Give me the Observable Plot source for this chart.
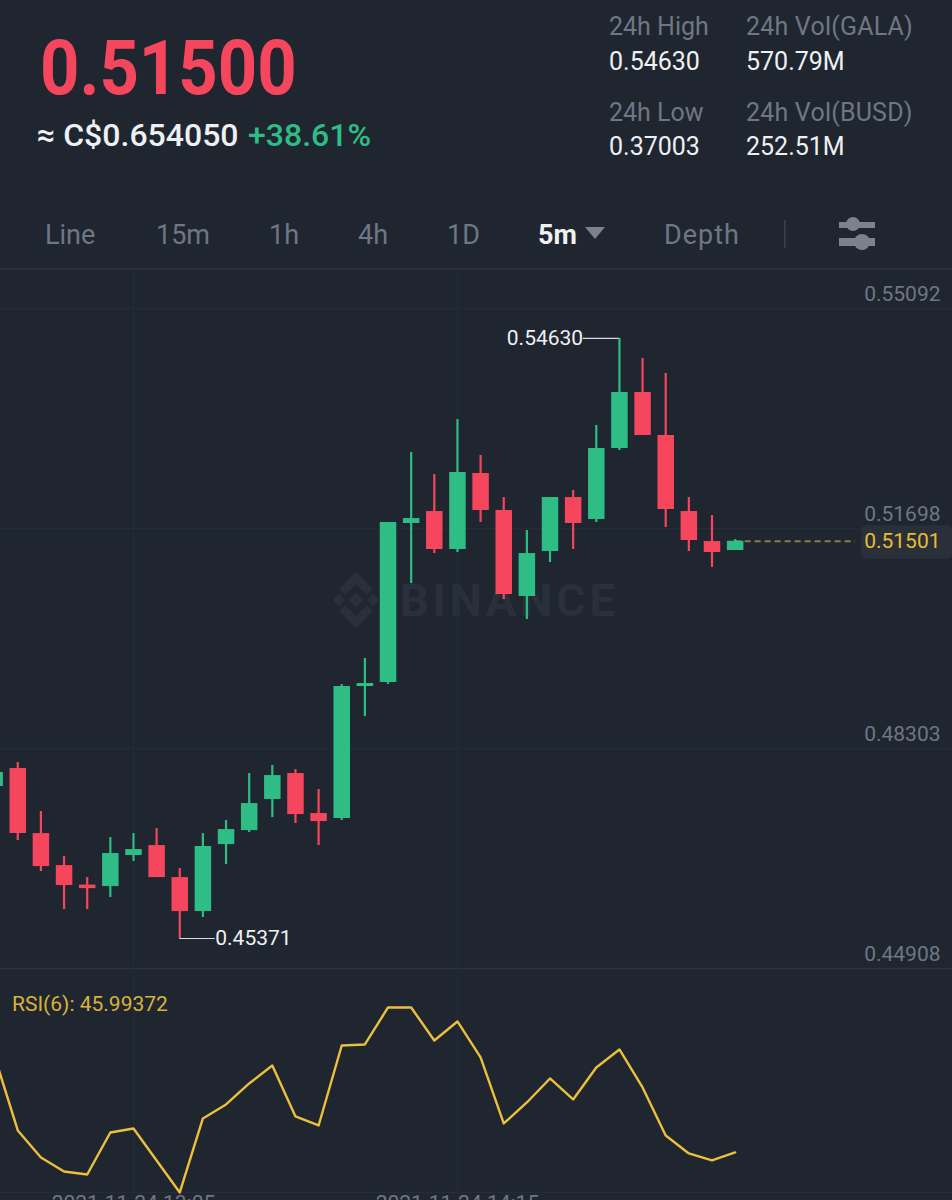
<!DOCTYPE html>
<html><head><meta charset="utf-8">
<script src="https://cdn.jsdelivr.net/npm/d3@7"></script>
<script src="https://cdn.jsdelivr.net/npm/@observablehq/plot@0.6"></script>
<style>
html,body{margin:0;padding:0;background:#1f2630;width:952px;height:1200px;overflow:hidden;font-family:Roboto,sans-serif}
#page{position:relative;width:952px;height:1200px;overflow:hidden}
.t{position:absolute;white-space:nowrap;line-height:1;transform-origin:0 50%}
.g{color:#6f7684}.w{color:#eef0f3}
#wm,#p1,#p2{position:absolute;left:0}
#p1{top:268px}#p2{top:968px}
#hr{position:absolute;left:0;top:268px;width:952px;height:2px;background:#2a313c}
</style></head><body><div id="page">
<div class="t" style="left:40px;top:30px;font-size:76px;font-weight:700;color:#f6465d;transform:scaleX(.905)">0.51500</div>
<div class="t w" style="left:37px;top:119px;font-size:32px;font-weight:500">≈ C$0.654050</div>
<div class="t" style="left:248px;top:119px;font-size:32px;font-weight:500;color:#2ebd85">+38.61%</div>
<div class="t g" style="left:609px;top:14px;font-size:25px">24h High</div>
<div class="t w" style="left:609px;top:49px;font-size:25px">0.54630</div>
<div class="t g" style="left:609px;top:100px;font-size:25px">24h Low</div>
<div class="t w" style="left:609px;top:134px;font-size:25px">0.37003</div>
<div class="t g" style="left:746px;top:14px;font-size:25px;letter-spacing:.2px">24h Vol(GALA)</div>
<div class="t w" style="left:746px;top:49px;font-size:25px">570.79M</div>
<div class="t g" style="left:746px;top:100px;font-size:25px;letter-spacing:.2px">24h Vol(BUSD)</div>
<div class="t w" style="left:746px;top:134px;font-size:25px">252.51M</div>
<div class="t g" style="left:45px;top:222px;font-size:27px">Line</div>
<div class="t g" style="left:156px;top:222px;font-size:27px">15m</div>
<div class="t g" style="left:269px;top:222px;font-size:27px">1h</div>
<div class="t g" style="left:358px;top:222px;font-size:27px">4h</div>
<div class="t g" style="left:447px;top:222px;font-size:27px">1D</div>
<div class="t w" style="left:538px;top:222px;font-size:27px;font-weight:700">5m</div>
<div class="t g" style="left:664px;top:222px;font-size:27px;letter-spacing:1px">Depth</div>
<svg style="position:absolute;left:0;top:210px" width="952" height="50">
<path d="M585 17h20l-10 12z" fill="#7b828e"/>
<rect x="784" y="10" width="1.5" height="28" fill="#3a414c"/>
<rect x="839" y="12" width="36" height="6" fill="#7b828e"/><circle cx="853" cy="14" r="7" fill="#7b828e"/>
<rect x="839" y="28" width="36" height="8" fill="#7b828e"/><circle cx="862" cy="32" r="8" fill="#7b828e"/>
</svg>
<svg id="wm" style="top:570px" width="952" height="60">
<g fill="#2a303b" transform="translate(356 30)">
<path d="M-23 0l6-6 6 6-6 6z"/><path d="M0-7l7 7-7 7-7-7z"/><path d="M23 0l-6-6-6 6 6 6z"/>
<path d="M0-28l17 17-6 6L0-16-11-5l-6-6z"/><path d="M0 28l17-17-6-6L0 16-11 5l-6 6z"/>
</g>
<text x="400" y="46" font-family="Roboto" font-weight="700" font-size="45" letter-spacing="4" fill="#2a303b">BINANCE</text>
</svg>
<div id="p1"></div><div id="hr"></div><div id="p2"></div>
<div class="t" style="left:12px;top:994px;font-size:21px;color:#d9b23c">RSI(6): 45.99372</div>
</div>
<script>
const opens=[.47716,.47993,.46990,.46496,.46195,.46172,.46651,.46805,.46311,.45786,.46820,.47036,.47515,.47916,.47299,.47222,.49259,.49320,.51774,.51959,.51373,.52546,.51975,.50648,.51342,.52175,.51836,.52932,.53796,.53132,.51959,.51496,.51357];
const closes=[.47932,.46990,.46481,.46188,.46141,.46682,.46743,.46311,.45786,.46790,.47052,.47453,.47885,.47283,.47175,.49259,.49305,.51790,.51851,.51373,.52561,.51975,.50678,.51311,.52175,.51774,.52932,.53796,.53132,.51990,.51512,.51327,.51501];
const highs=[.47960,.48086,.47330,.46635,.46311,.46928,.46990,.47067,.46450,.46990,.47191,.47916,.48040,.47978,.47669,.49290,.49691,.51790,.52870,.52530,.53379,.52823,.52175,.51666,.52175,.52283,.53286,.54630,.54320,.54089,.52175,.51898,.51527];
const lows=[.47716,.46882,.46404,.45817,.45817,.46003,.46558,.46311,.45371,.45694,.46512,.47006,.47237,.47145,.46805,.47191,.48796,.49290,.50848,.51311,.51327,.51790,.50601,.50293,.51172,.51373,.51790,.52901,.53132,.51712,.51342,.51095,.51357];
const rsi=[74.8,52.6,44.5,40.3,39.4,52.0,53.2,43.6,34.0,56.2,60.4,66.7,72.1,56.8,54.1,78.1,78.4,89.5,89.5,79.6,85.3,74.5,54.7,61.0,68.2,61.9,71.5,76.9,65.5,51.1,45.7,43.6,45.99372];
const priceTicks=[.55092,.51698,.48303,.44908];
const panelEdge=[.44908];
const timeTicks=[new Date("2021-11-24T13:05Z"),new Date("2021-11-24T14:15Z")];
const firstTime=new Date("2021-11-24T12:35Z");
const xDomain=[new Date("2021-11-24T12:36:16Z"),new Date("2021-11-24T16:01:58Z")];
const lastPrice=.51501, lastTime=new Date("2021-11-24T15:15Z");
const highMark={t:new Date("2021-11-24T14:50Z"),end:new Date("2021-11-24T14:42:10Z"),v:.54630};
const lowMark={t:new Date("2021-11-24T13:15Z"),end:new Date("2021-11-24T13:22:40Z"),v:.45371};
const badgeTimes=[new Date("2021-11-24T15:42:20Z"),xDomain[1]], badgePrices=[.51222,.51738];
const dashEnd=new Date("2021-11-24T15:41:00Z");

const GREEN="#2ebd85",RED="#f6465d",GRID="#262d38",EDGE="#2c333e",YEL="#ecbf3c";
const candles=opens.map((o,i)=>({t:d3.utcMinute.offset(firstTime,i*5),open:o,close:closes[i],high:highs[i],low:lows[i],rsi:rsi[i],c:closes[i]>=o?GREEN:RED}));
const common={width:952,marginLeft:0,marginRight:0,marginTop:0,marginBottom:0,style:{background:"transparent",fontFamily:"Roboto,sans-serif"}};
const fmt=d3.format(".5f");
const chart=Plot.plot({...common,height:702,
  x:{type:"utc",domain:xDomain,range:[0,952],axis:null},
  y:{domain:[.44908,.55709],range:[700,0],axis:null},
  marks:[
    Plot.ruleY(priceTicks,{stroke:GRID,strokeWidth:1}),
    Plot.ruleY(panelEdge,{stroke:EDGE,strokeWidth:1.5}),
    Plot.ruleX(timeTicks,{stroke:GRID,strokeWidth:1}),
    Plot.axisY(priceTicks,{anchor:"right",tickSize:0,tickPadding:-12,textAnchor:"end",dy:-14,tickFormat:fmt,fontSize:21,fill:"#6f7684",label:null}),
    Plot.ruleY([lastPrice],{x1:lastTime,x2:dashEnd,stroke:"#8a7f45",strokeWidth:2,strokeDasharray:"6 4"}),
    Plot.ruleX(candles,{x:"t",y1:"low",y2:"high",stroke:"c",strokeWidth:2.2}),
    Plot.ruleX(candles,{x:"t",y1:"open",y2:"close",stroke:"c",strokeWidth:16.5}),
    Plot.ruleY([highMark],{x1:"end",x2:"t",y:"v",stroke:"#d8dbe0",strokeWidth:1.2}),
    Plot.ruleY([lowMark],{x1:"t",x2:"end",y:"v",stroke:"#d8dbe0",strokeWidth:1.2}),
    Plot.text([highMark],{x:"end",y:"v",text:d=>fmt(d.v),textAnchor:"end",fontSize:21,fill:"#eef0f3"}),
    Plot.text([lowMark],{x:"end",y:"v",text:d=>fmt(d.v),textAnchor:"start",fontSize:21,fill:"#eef0f3"}),
    Plot.rect([0],{x1:()=>badgeTimes[0],x2:()=>badgeTimes[1],y1:()=>badgePrices[0],y2:()=>badgePrices[1],fill:"#2a303a",rx:5}),
    Plot.text([lastPrice],{x:xDomain[1],y:d=>d,text:d=>fmt(d),textAnchor:"end",dx:-12,fontSize:21,fill:"#e9bc2d"})
  ]});
document.getElementById("p1").append(chart);
const rsiChart=Plot.plot({...common,height:232,marginBottom:8,
  x:{type:"utc",domain:xDomain,range:[0,952]},
  y:{domain:[33.99,101.19],range:[224,0],axis:null},
  marks:[
    Plot.ruleX(timeTicks,{stroke:GRID,strokeWidth:1}),
    Plot.ruleY([33.99],{stroke:GRID,strokeWidth:1}),
    Plot.line(candles,{x:"t",y:"rsi",stroke:YEL,strokeWidth:2.4,curve:"linear"}),
    Plot.axisX(timeTicks,{anchor:"bottom",tickSize:0,tickPadding:3,fontSize:21,fill:"#6f7684",label:null,tickFormat:d3.utcFormat("%Y-%m-%d %H:%M"),textAnchor:"middle"})
  ]});
document.getElementById("p2").append(rsiChart);
</script></body></html>
